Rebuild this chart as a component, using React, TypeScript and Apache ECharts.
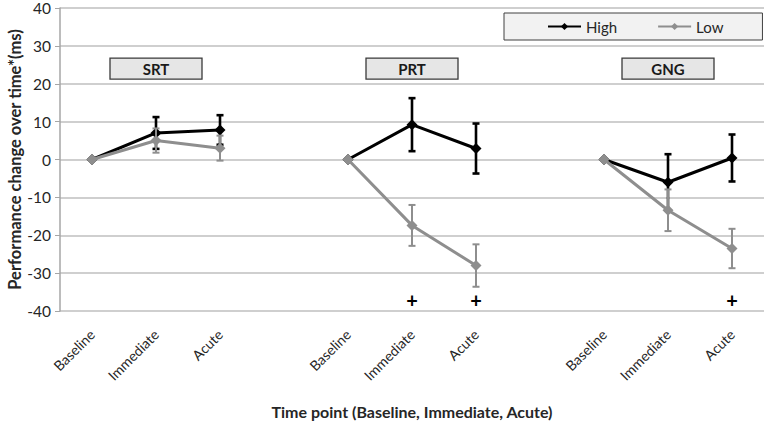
import React, { useEffect, useRef } from "react";
import * as echarts from "echarts";

const categories = ["Baseline", "Immediate", "Acute", "", "Baseline", "Immediate", "Acute", "", "Baseline", "Immediate", "Acute"];
const highMean = [0, 7, 7.8, null, 0, 9.2, 2.9, null, 0, -6, 0.4];
const highErr = [0, 4.2, 3.9, null, 0, 7, 6.6, null, 0, 7.4, 6.2];
const lowMean = [0, 5, 3, null, 0, -17.4, -28, null, 0, -13.4, -23.5];
const lowErr = [0, 3.2, 3.3, null, 0, 5.4, 5.6, null, 0, 5.5, 5.2];
const taskLabels = ["SRT", "PRT", "GNG"];
const taskLabelIdx = [1, 5, 9];
const taskLabelY = 24;
const plusIdx = [5, 6, 10];
const plusY = -37;

const FONT = "Lato";
const HIGH = "#000000";
const LOW = "#8e8e8e";

function errData(mean: (number | null)[], err: (number | null)[]) {
  const out: number[][] = [];
  mean.forEach((m, i) => {
    const e = err[i];
    if (m !== null && e !== null && e > 0) out.push([i, m - e, m + e]);
  });
  return out;
}

function errRender(color: string, width: number) {
  return (params: any, api: any) => {
    const x = api.value(0);
    const top = api.coord([x, api.value(2)]);
    const bot = api.coord([x, api.value(1)]);
    const cap = 3.5;
    const style = { stroke: color, lineWidth: width };
    return {
      type: "group",
      children: [
        { type: "line", shape: { x1: top[0], y1: top[1], x2: bot[0], y2: bot[1] }, style },
        { type: "line", shape: { x1: top[0] - cap, y1: top[1], x2: top[0] + cap, y2: top[1] }, style },
        { type: "line", shape: { x1: bot[0] - cap, y1: bot[1], x2: bot[0] + cap, y2: bot[1] }, style },
      ],
    };
  };
}

export default function App() {
  const ref = useRef<HTMLDivElement>(null);
  useEffect(() => {
    if (!ref.current) return;
    const chart = echarts.init(ref.current, undefined, { renderer: "svg" });
    const option: any = {
      animation: false,
      backgroundColor: "#ffffff",
      textStyle: { fontFamily: FONT },
      grid: { left: 60, right: 1, top: 8, bottom: 112, containLabel: false, outerBoundsMode: "none" },
      legend: {
        data: ["High", "Low"],
        left: 504,
        top: 13,
        padding: [6, 39, 6, 43],
        itemGap: 40,
        itemWidth: 33,
        itemHeight: 9,
        borderColor: "#404040",
        borderWidth: 1,
        backgroundColor: "#f2f2f2",
        textStyle: { fontFamily: FONT, fontSize: 15, color: "#262626" },
      },
      xAxis: {
        type: "category",
        data: categories,
        boundaryGap: true,
        axisLine: { show: false, onZero: false },
        axisTick: { show: false },
        axisLabel: { rotate: 45, fontSize: 14, color: "#262626", margin: 21, interval: 0, fontFamily: FONT },
        name: "Time point (Baseline, Immediate, Acute)",
        nameLocation: "middle",
        nameGap: 92,
        nameMoveOverlap: false,
        nameTextStyle: { fontFamily: FONT, fontSize: 16, fontWeight: "bold", color: "#262626" },
      },
      yAxis: {
        type: "value",
        min: -40,
        max: 40,
        interval: 10,
        axisLine: { show: true, lineStyle: { color: "#a6a6a6", width: 1.5 } },
        axisTick: { show: true, length: 5, lineStyle: { color: "#a6a6a6" } },
        axisLabel: { fontSize: 15.5, lineHeight: 12, color: "#262626", margin: 9, fontFamily: FONT },
        splitLine: { show: true, lineStyle: { color: "#bfbfbf", width: 1.5 } },
        name: "Performance change over time*(ms)",
        nameLocation: "middle",
        nameGap: 37,
        nameMoveOverlap: false,
        nameTextStyle: { fontFamily: FONT, fontSize: 16.5, fontWeight: "bold", color: "#262626" },
      },
      series: [
        {
          name: "High",
          type: "line",
          data: highMean,
          connectNulls: false,
          symbol: "diamond",
          symbolSize: 11,
          lineStyle: { color: HIGH, width: 3 },
          itemStyle: { color: HIGH },
          z: 3,
        },
        {
          name: "highErr",
          type: "custom",
          data: errData(highMean, highErr),
          renderItem: errRender(HIGH, 2.6),
          z: 4,
        },
        {
          name: "Low",
          type: "line",
          data: lowMean,
          connectNulls: false,
          symbol: "diamond",
          symbolSize: 11,
          lineStyle: { color: LOW, width: 3 },
          itemStyle: { color: LOW },
          z: 5,
        },
        {
          name: "lowErr",
          type: "custom",
          data: errData(lowMean, lowErr),
          renderItem: errRender(LOW, 2),
          z: 6,
        },
        {
          name: "tasks",
          type: "custom",
          data: taskLabelIdx.map((idx, i) => [idx, taskLabelY, i]),
          renderItem: (params: any, api: any) => {
            const c = api.coord([api.value(0), api.value(1)]);
            const label = taskLabels[api.value(2)];
            return {
              type: "group",
              children: [
                {
                  type: "rect",
                  shape: { x: c[0] - 46, y: c[1] - 10.5, width: 92, height: 21 },
                  style: { fill: "#e6e6e6", stroke: "#3a3a3a", lineWidth: 1.3 },
                },
                {
                  type: "text",
                  style: {
                    x: c[0],
                    y: c[1] + 0.5,
                    text: label,
                    fill: "#1a1a1a",
                    font: `bold 15px ${FONT}`,
                    align: "center",
                    verticalAlign: "middle",
                  },
                },
              ],
            };
          },
          z: 2,
        },
        {
          name: "plus",
          type: "custom",
          data: plusIdx.map((idx) => [idx, plusY]),
          renderItem: (params: any, api: any) => {
            const c = api.coord([api.value(0), api.value(1)]);
            return {
              type: "text",
              style: {
                x: c[0],
                y: c[1],
                text: "+",
                fill: "#000000",
                font: `bold 20px ${FONT}`,
                align: "center",
                verticalAlign: "middle",
              },
            };
          },
          z: 2,
        },
      ],
    };
    chart.setOption(option);
    return () => chart.dispose();
  }, []);
  return (
    <div
      ref={ref}
      style={{ position: "fixed", left: 0, top: 0, width: 765, height: 423, background: "#fff" }}
    />
  );
}
